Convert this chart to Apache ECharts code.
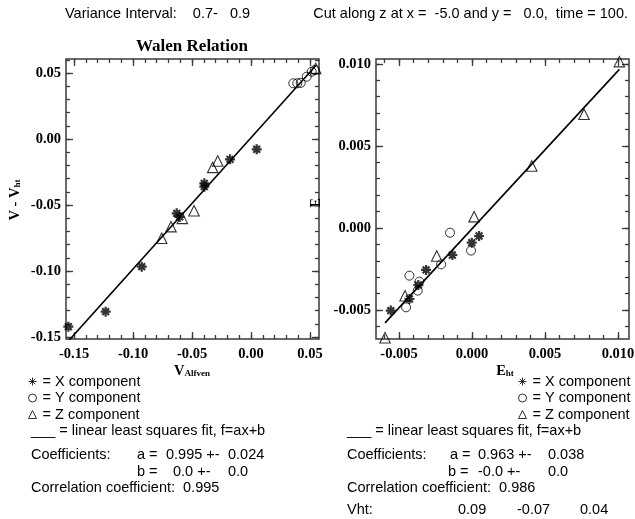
<!DOCTYPE html>
<html><head><meta charset="utf-8">
<script src="https://cdn.jsdelivr.net/npm/echarts@6/dist/echarts.min.js"></script>
<style>html,body{margin:0;padding:0;background:#fff}#c{width:635px;height:519px}</style>
</head><body><div id="c"></div><script>
// ---------- LEFT PANEL DATA (V - Vht vs V_Alfven) ----------
const leftXcompX = [-0.1548, -0.1232, -0.0926, -0.0630, -0.0605, -0.0396, -0.0396, -0.0178, 0.0048];
const leftXcompY = [-0.1422, -0.1308, -0.0967, -0.0563, -0.0590, -0.0336, -0.0361, -0.0154, -0.0078];
const leftYcompX = [0.0358, 0.0392, 0.0421, 0.0472, 0.0514, 0.0542];
const leftYcompY = [0.0422, 0.0422, 0.0425, 0.0472, 0.0510, 0.0523];
const leftZcompX = [-0.0757, -0.0678, -0.0582, -0.0483, -0.0325, -0.0282, 0.0548];
const leftZcompY = [-0.0752, -0.0664, -0.0601, -0.0543, -0.0215, -0.0167, 0.0535];
const leftFitA = 0.995, leftFitB = 0.001;
const leftXTickValues = [-0.15, -0.10, -0.05, 0.00, 0.05];
const leftXTickLabels = ['-0.15', '-0.10', '-0.05', '0.00', '0.05'];
const leftYTickValues = [-0.15, -0.10, -0.05, 0.00, 0.05];
const leftYTickLabels = ['-0.15', '-0.10', '-0.05', '0.00', '0.05'];
const leftXRange = [-0.1568, 0.0576];
const leftYRange = [-0.1515, 0.0606];

// ---------- RIGHT PANEL DATA (E vs E_ht) ----------
const rightXcompX = [-0.00557, -0.00429, -0.00368, -0.00315, -0.00135, -0.00002, 0.00048];
const rightXcompY = [-0.00504, -0.00433, -0.00348, -0.00256, -0.00165, -0.00090, -0.00049];
const rightYcompX = [-0.00452, -0.00429, -0.00372, -0.00361, -0.00212, -0.00151, -0.00007];
const rightYcompY = [-0.00484, -0.00291, -0.00382, -0.00327, -0.00222, -0.00029, -0.00138];
const rightZcompX = [-0.00596, -0.00459, -0.00242, 0.00014, 0.00409, 0.00767, 0.01009];
const rightZcompY = [-0.00669, -0.00413, -0.00171, 0.00069, 0.00378, 0.00693, 0.01014];
const rightFitA = 0.963, rightFitB = -0.00005;
const rightXTickValues = [-0.005, 0.000, 0.005, 0.010];
const rightXTickLabels = ['-0.005', '0.000', '0.005', '0.010'];
const rightYTickValues = [-0.005, 0.000, 0.005, 0.010];
const rightYTickLabels = ['-0.005', '0.000', '0.005', '0.010'];
const rightXRange = [-0.00658, 0.01075];
const rightYRange = [-0.00677, 0.0103];

// ---------- helpers ----------
function zip(a, b) { return a.map((v, i) => [v, b[i]]); }
function steps(start, end, step) {
  const out = []; const n = Math.round((end - start) / step);
  for (let i = 0; i <= n; i++) out.push(+(start + i * step).toFixed(6));
  return out;
}
function fitLine(xsList, a, b) {
  const all = [].concat(...xsList);
  const lo = Math.min(...all), hi = Math.max(...all);
  return [[lo, a * lo + b], [hi, a * hi + b]];
}
const AX = '#3a3a3a';
const labelFont = { fontFamily: 'Liberation Serif', fontWeight: 'bold', fontSize: 14.5, color: '#000' };
const sansFont = 'Liberation Sans';

function axisSet(dim, grid, range, majors, labels, minors) {
  const sides = dim === 'x' ? ['bottom', 'top'] : ['left', 'right'];
  const res = [];
  sides.forEach((pos, si) => {
    [true, false].forEach(isMajor => {
      res.push({
        type: 'value', gridIndex: grid, position: pos, min: range[0], max: range[1],
        axisLine: { show: false, onZero: false }, splitLine: { show: false },
        axisTick: { show: true, inside: true, length: isMajor ? 7 : 4,
          customValues: isMajor ? majors : minors, lineStyle: { color: AX, width: 1.3 } },
        axisLabel: { show: isMajor && si === 0, customValues: majors,
          margin: dim === 'x' ? 8 : 5, ...labelFont,
          formatter: v => { const i = majors.findIndex(m => Math.abs(m - v) < 1e-9); return i >= 0 ? labels[i] : ''; } }
      });
    });
  });
  return res;
}

const xAxes = [].concat(
  axisSet('x', 0, leftXRange, leftXTickValues, leftXTickLabels, steps(-0.15, 0.05, 0.01)),
  axisSet('x', 1, rightXRange, rightXTickValues, rightXTickLabels, steps(-0.006, 0.010, 0.001))
);
const yAxes = [].concat(
  axisSet('y', 0, leftYRange, leftYTickValues, leftYTickLabels, steps(-0.15, 0.06, 0.01)),
  axisSet('y', 1, rightYRange, rightYTickValues, rightYTickLabels, steps(-0.006, 0.010, 0.001))
);

const STAR = 'path://M5,0L5,10M0,5L10,5M1.6,1.6L8.4,8.4M1.6,8.4L8.4,1.6';
function scatter(name, data, axisIdx, kind) {
  const s = { type: 'scatter', name, data, xAxisIndex: axisIdx, yAxisIndex: axisIdx, clip: false, silent: true, z: 3 };
  if (kind === 'star') { s.symbol = STAR; s.symbolSize = 10; s.itemStyle = { color: 'rgba(0,0,0,0)', borderColor: '#000', borderWidth: 2.2 }; }
  if (kind === 'circle') { s.symbol = 'circle'; s.symbolSize = 9; s.itemStyle = { color: 'rgba(0,0,0,0)', borderColor: '#000', borderWidth: 1 }; }
  if (kind === 'tri') { s.symbol = 'triangle'; s.symbolSize = 10.5; s.itemStyle = { color: 'rgba(0,0,0,0)', borderColor: '#000', borderWidth: 1.1 }; }
  return s;
}
function line(data, axisIdx) {
  return { type: 'line', name: 'fit', data, xAxisIndex: axisIdx, yAxisIndex: axisIdx, symbol: 'none', silent: true,
    lineStyle: { color: '#000', width: 1.6 }, z: 2 };
}

const series = [
  line(fitLine([leftXcompX, leftYcompX, leftZcompX], leftFitA, leftFitB), 0),
  scatter('X component', zip(leftXcompX, leftXcompY), 0, 'star'),
  scatter('Y component', zip(leftYcompX, leftYcompY), 0, 'circle'),
  scatter('Z component', zip(leftZcompX, leftZcompY), 0, 'tri'),
  line(fitLine([rightXcompX, rightYcompX, rightZcompX], rightFitA, rightFitB), 4),
  scatter('X component', zip(rightXcompX, rightXcompY), 4, 'star'),
  scatter('Y component', zip(rightYcompX, rightYcompY), 4, 'circle'),
  scatter('Z component', zip(rightZcompX, rightZcompY), 4, 'tri')
];

function legendAt(left) {
  return {
    left, top: 369, orient: 'vertical', selectedMode: false,
    data: ['X component', 'Y component', 'Z component'],
    formatter: '= {name}', itemWidth: 8, itemHeight: 8, itemGap: 1.5,
    itemStyle: { borderWidth: 1 },
    textStyle: { fontFamily: sansFont, fontSize: 14.5, color: '#000', padding: [0, 0, 0, 1] }
  };
}

function txt(text, x, y, opts) {
  return { type: 'text', x, y, silent: true,
    style: Object.assign({ text, font: '14.5px ' + sansFont, fill: '#000', textAlign: 'left', textVerticalAlign: 'middle' }, opts || {}) };
}
const serifBold = 'bold 14.5px "Liberation Serif"';
const graphics = [
  txt('Variance Interval:    0.7-   0.9', 65, 14),
  txt('Cut along z at x =  -5.0 and y =   0.0,  time = 100.', 628, 14, { textAlign: 'right' }),
  txt('Walen Relation', 192, 47, { font: 'bold 17px "Liberation Serif"', textAlign: 'center' }),
  { type: 'text', x: 15, y: 200, rotation: Math.PI / 2, silent: true,
    style: { text: 'V - V{s|ht}', font: serifBold, fill: '#000', textAlign: 'center', textVerticalAlign: 'middle',
      rich: { s: { font: 'bold 9px "Liberation Serif"', padding: [6, 0, 0, 0] } } } },
  { type: 'text', x: 316, y: 203, rotation: Math.PI / 2, silent: true,
    style: { text: 'E', font: serifBold, fill: '#000', textAlign: 'center', textVerticalAlign: 'middle' } },
  { type: 'text', x: 192, y: 371, silent: true,
    style: { text: 'V{s|Alfven}', font: serifBold, fill: '#000', textAlign: 'center', textVerticalAlign: 'middle',
      rich: { s: { font: 'bold 9px "Liberation Serif"', padding: [6, 0, 0, 0] } } } },
  { type: 'text', x: 505, y: 371, silent: true,
    style: { text: 'E{s|ht}', font: serifBold, fill: '#000', textAlign: 'center', textVerticalAlign: 'middle',
      rich: { s: { font: 'bold 9px "Liberation Serif"', padding: [6, 0, 0, 0] } } } },
  // left block
  txt('___ = linear least squares fit, f=ax+b', 31, 431),
  txt('Coefficients:', 31, 455),
  txt('a =', 137, 455), txt('0.995 +-', 166, 455), txt('0.024', 228, 455),
  txt('b =', 137, 472), txt('0.0 +-', 173, 472), txt('0.0', 228, 472),
  txt('Correlation coefficient:  0.995', 31, 488),
  // right block
  txt('___ = linear least squares fit, f=ax+b', 347, 431),
  txt('Coefficients:', 347, 455),
  txt('a =', 450, 455), txt('0.963 +-', 478, 455), txt('0.038', 548, 455),
  txt('b =', 448, 472), txt('-0.0 +-', 478, 472), txt('0.0', 548, 472),
  txt('Correlation coefficient:  0.986', 347, 488),
  txt('Vht:', 347, 510), txt('0.09', 458, 510), txt('-0.07', 517, 510), txt('0.04', 580, 510)
];

const chart = echarts.init(document.getElementById('c'), null, { renderer: 'canvas' });
chart.setOption({
  animation: false,
  backgroundColor: '#fff',
  grid: [
    { left: 66, top: 59, width: 253, height: 280, show: true, borderColor: AX, borderWidth: 1.5, backgroundColor: 'transparent', containLabel: false, outerBoundsMode: 'none' },
    { left: 376, top: 59, width: 253, height: 280, show: true, borderColor: AX, borderWidth: 1.5, backgroundColor: 'transparent', containLabel: false, outerBoundsMode: 'none' }
  ],
  xAxis: xAxes,
  yAxis: yAxes,
  legend: [legendAt(23), legendAt(513)],
  series,
  graphic: graphics
});
</script></body></html>
